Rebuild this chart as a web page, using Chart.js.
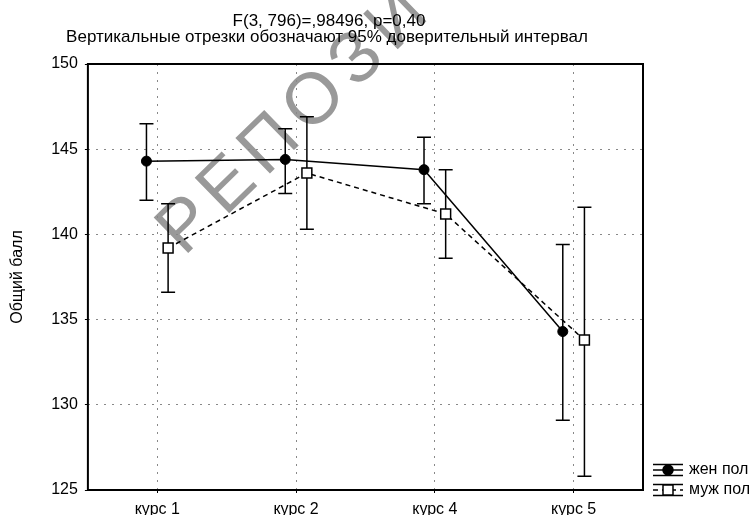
<!DOCTYPE html>
<html>
<head>
<meta charset="utf-8">
<script src="https://cdn.jsdelivr.net/npm/chart.js@4.4.1/dist/chart.umd.min.js"></script>
<style>
  html, body { margin: 0; padding: 0; background: #fff; }
  #wrap { width: 755px; height: 515px; position: relative; }
</style>
</head>
<body>
<div id="wrap"><canvas id="anovaChart"></canvas></div>
<script>
// values (means and 95% CI bounds)
const courses = ['курс 1', 'курс 2', 'курс 4', 'курс 5'];
const femaleMean = [144.3, 144.4, 143.8, 134.3];
const femaleLow  = [142.0, 142.4, 141.8, 129.1];
const femaleHigh = [146.5, 146.2, 145.7, 139.4];
const maleMean = [139.2, 143.6, 141.2, 133.8];
const maleLow  = [136.6, 140.3, 138.6, 125.8];
const maleHigh = [141.8, 146.9, 143.8, 141.6];
const seriesNames = ['жен пол', 'муж пол'];
const titleLines = ['F(3, 796)=,98496, p=0,40', 'Вертикальные отрезки обозначают 95% доверительный интервал'];
const yAxisTitle = 'Общий балл';
const watermark = 'РЕПОЗИТОРИЙ';

const FONT = "'Liberation Sans', Arial, sans-serif";
const shift = 0.078;   // small horizontal dodge between the two groups

// white background + grey watermark behind everything
const backdrop = {
    id: 'backdrop',
    beforeDraw(chart) {
        const ctx = chart.ctx;
        ctx.save();
        ctx.fillStyle = '#fff';
        ctx.fillRect(0, 0, chart.width, chart.height);
        ctx.translate(184, 257);
        ctx.rotate(-44.2 * Math.PI / 180);
        ctx.font = '72px ' + FONT;
        ctx.letterSpacing = '9px';
        ctx.fillStyle = '#999';
        ctx.textBaseline = 'alphabetic';
        ctx.fillText(watermark, 0, 0);
        ctx.restore();
    }
};

// vertical CI segments with caps, plus the closed frame around the plot
const errorBars = {
    id: 'errorBars',
    beforeDatasetsDraw(chart) {
        const ctx = chart.ctx;
        const yScale = chart.scales.y;
        const area = chart.chartArea;
        ctx.save();
        ctx.strokeStyle = '#000';
        ctx.lineWidth = 2;
        ctx.setLineDash([]);
        ctx.strokeRect(area.left, area.top, area.right - area.left, area.bottom - area.top);
        ctx.lineWidth = 1.5;
        chart.data.datasets.forEach((ds, d) => {
            const meta = chart.getDatasetMeta(d);
            meta.data.forEach((pt, i) => {
                const yLo = yScale.getPixelForValue(ds.errLow[i]);
                const yHi = yScale.getPixelForValue(ds.errHigh[i]);
                ctx.beginPath();
                ctx.moveTo(pt.x, yLo); ctx.lineTo(pt.x, yHi);
                ctx.moveTo(pt.x - 7, yLo); ctx.lineTo(pt.x + 7, yLo);
                ctx.moveTo(pt.x - 7, yHi); ctx.lineTo(pt.x + 7, yHi);
                ctx.stroke();
            });
        });
        ctx.restore();
    }
};

// two header lines and the legend at the lower right
const headerAndLegend = {
    id: 'headerAndLegend',
    afterDraw(chart) {
        const ctx = chart.ctx;
        ctx.save();
        ctx.fillStyle = '#000';
        ctx.textAlign = 'center';
        ctx.textBaseline = 'middle';
        ctx.font = '17px ' + FONT;
        ctx.fillText(titleLines[0], 329, 21);
        ctx.fillText(titleLines[1], 327, 37);

        ctx.font = '16px ' + FONT;
        const x0 = chart.chartArea.right + 10;
        chart.data.datasets.forEach((ds, d) => {
            const y = chart.chartArea.bottom - 20 + d * 20;
            ctx.strokeStyle = '#000';
            ctx.lineWidth = 1.5;
            ctx.setLineDash([]);
            ctx.beginPath();
            ctx.moveTo(x0, y - 5.5); ctx.lineTo(x0 + 30, y - 5.5);
            ctx.moveTo(x0, y + 5.5); ctx.lineTo(x0 + 30, y + 5.5);
            ctx.stroke();
            ctx.setLineDash(ds.borderDash || []);
            ctx.beginPath();
            ctx.moveTo(x0, y); ctx.lineTo(x0 + 30, y);
            ctx.stroke();
            ctx.setLineDash([]);
            ctx.fillStyle = ds.pointBackgroundColor;
            ctx.beginPath();
            if (ds.pointStyle === 'rect') {
                ctx.rect(x0 + 10, y - 5, 10, 10);
            } else {
                ctx.arc(x0 + 15, y, ds.pointRadius, 0, Math.PI * 2);
            }
            ctx.fill();
            ctx.stroke();
            ctx.fillStyle = '#000';
            ctx.textAlign = 'left';
            ctx.fillText(ds.label, x0 + 36, y);
        });
        ctx.restore();
    }
};

const ctx = document.getElementById('anovaChart').getContext('2d');
const anovaChart = new Chart(ctx, {
    type: 'line',
    data: {
        datasets: [
            {
                label: seriesNames[0],
                data: femaleMean.map((v, i) => ({ x: i - shift, y: v })),
                errLow: femaleLow,
                errHigh: femaleHigh,
                borderColor: '#000',
                borderWidth: 1.5,
                pointStyle: 'circle',
                pointRadius: 5,
                pointBackgroundColor: '#000',
                pointBorderColor: '#000',
                pointBorderWidth: 1
            },
            {
                label: seriesNames[1],
                data: maleMean.map((v, i) => ({ x: i + shift, y: v })),
                errLow: maleLow,
                errHigh: maleHigh,
                borderColor: '#000',
                borderWidth: 1.5,
                borderDash: [5, 4],
                pointStyle: 'rect',
                pointRadius: 7,
                pointBackgroundColor: '#fff',
                pointBorderColor: '#000',
                pointBorderWidth: 1.5
            }
        ]
    },
    options: {
        responsive: true,
        maintainAspectRatio: false,
        animation: false,
        layout: { padding: { top: 64, right: 112, bottom: -12, left: 0 } },
        plugins: {
            legend: { display: false },
            title: { display: false },
            tooltip: { enabled: false }
        },
        scales: {
            x: {
                type: 'linear',
                min: -0.5,
                max: 3.5,
                afterBuildTicks: axis => { axis.ticks = courses.map((c, i) => ({ value: i })); },
                ticks: {
                    callback: v => courses[v],
                    color: '#000',
                    padding: 9,
                    font: { family: FONT, size: 16, lineHeight: 1.0 }
                },
                grid: { color: '#888', tickLength: 3, tickColor: '#000', tickBorderDash: [] },
                border: { display: false, dash: [2, 6] }
            },
            y: {
                min: 125,
                max: 150,
                ticks: {
                    stepSize: 5,
                    color: '#000',
                    padding: 7,
                    font: { family: FONT, size: 16 }
                },
                grid: { color: '#888', tickLength: 3, tickColor: '#000', tickBorderDash: [] },
                border: { display: false, dash: [2, 6] },
                title: {
                    display: true,
                    text: yAxisTitle,
                    color: '#000',
                    font: { family: FONT, size: 16 },
                    padding: { top: 8, bottom: 17 }
                }
            }
        }
    },
    plugins: [backdrop, errorBars, headerAndLegend]
});
</script>
</body>
</html>
